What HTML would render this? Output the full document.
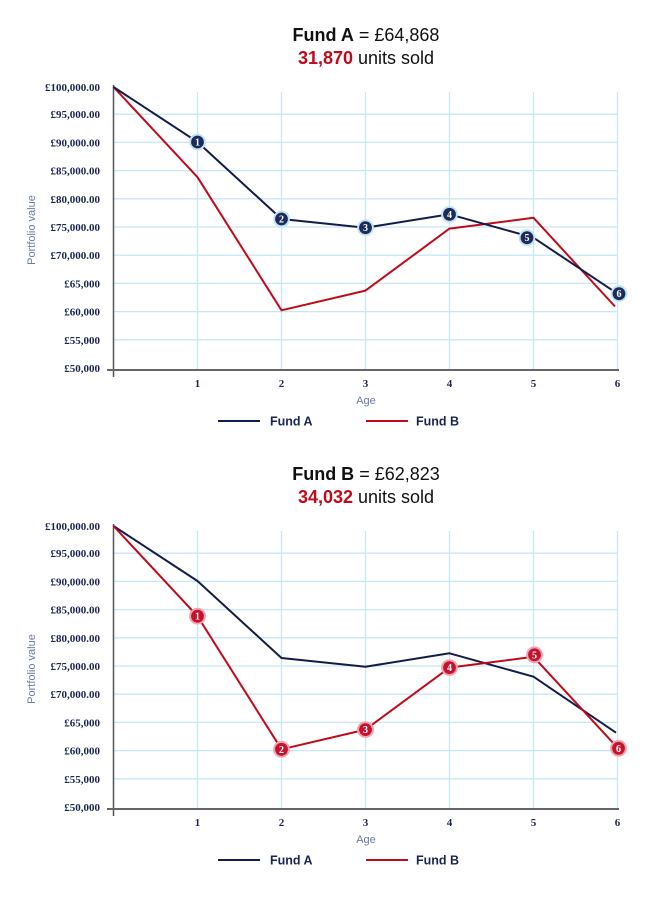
<!DOCTYPE html>
<html><head><meta charset="utf-8"><style>
html,body{margin:0;padding:0;background:#fff;}
svg{display:block;}
.t{font-family:"Liberation Sans",sans-serif;font-size:18px;fill:#111;}
.yl{font-family:"Liberation Serif",serif;font-size:11px;font-weight:bold;fill:#1b2552;text-anchor:end;}
.xl{font-family:"Liberation Serif",serif;font-size:11px;font-weight:bold;fill:#1b2552;text-anchor:middle;}
.ax{font-family:"Liberation Sans",sans-serif;font-size:11px;fill:#6a7aa6;text-anchor:middle;}
.lg{font-family:"Liberation Sans",sans-serif;font-size:12.5px;font-weight:bold;fill:#1b2552;}
.mn{font-family:"Liberation Serif",serif;font-size:10px;font-weight:bold;fill:#fff;text-anchor:middle;}
</style></head><body>
<svg width="659" height="905" viewBox="0 0 659 905" xmlns="http://www.w3.org/2000/svg">
<defs>
<g id="grid">
  <g stroke="#c8e7f6" stroke-width="1.3">
    <line x1="113.5" y1="114.2" x2="618" y2="114.2"/>
    <line x1="113.5" y1="142.4" x2="618" y2="142.4"/>
    <line x1="113.5" y1="170.6" x2="618" y2="170.6"/>
    <line x1="113.5" y1="198.8" x2="618" y2="198.8"/>
    <line x1="113.5" y1="227" x2="618" y2="227"/>
    <line x1="113.5" y1="255.2" x2="618" y2="255.2"/>
    <line x1="113.5" y1="283.4" x2="618" y2="283.4"/>
    <line x1="113.5" y1="311.6" x2="618" y2="311.6"/>
    <line x1="113.5" y1="339.8" x2="618" y2="339.8"/>
    <line x1="197.5" y1="92" x2="197.5" y2="370"/>
    <line x1="281.5" y1="92" x2="281.5" y2="370"/>
    <line x1="365.5" y1="92" x2="365.5" y2="370"/>
    <line x1="449.5" y1="92" x2="449.5" y2="370"/>
    <line x1="533.5" y1="92" x2="533.5" y2="370"/>
    <line x1="617.5" y1="92" x2="617.5" y2="370"/>
  </g>
  <line x1="113.5" y1="85" x2="113.5" y2="377" stroke="#555" stroke-width="1.5"/>
  <line x1="107" y1="370" x2="619" y2="370" stroke="#666" stroke-width="2"/>
  <text class="yl" x="100" y="91">£100,000.00</text>
  <text class="yl" x="100" y="118.2">£95,000.00</text>
  <text class="yl" x="100" y="146.4">£90,000.00</text>
  <text class="yl" x="100" y="174.6">£85,000.00</text>
  <text class="yl" x="100" y="202.8">£80,000.00</text>
  <text class="yl" x="100" y="231">£75,000.00</text>
  <text class="yl" x="100" y="259.2">£70,000.00</text>
  <text class="yl" x="100" y="287.4">£65,000</text>
  <text class="yl" x="100" y="315.6">£60,000</text>
  <text class="yl" x="100" y="343.8">£55,000</text>
  <text class="yl" x="100" y="372">£50,000</text>
  <text class="xl" x="197.5" y="387">1</text>
  <text class="xl" x="281.5" y="387">2</text>
  <text class="xl" x="365.5" y="387">3</text>
  <text class="xl" x="449.5" y="387">4</text>
  <text class="xl" x="533.5" y="387">5</text>
  <text class="xl" x="617.5" y="387">6</text>
  <text class="ax" x="366" y="404">Age</text>
  <text class="ax" x="0" y="0" font-size="10" transform="translate(35,230) rotate(-90)">Portfolio value</text>
  <line x1="218" y1="421" x2="260" y2="421" stroke="#141c4c" stroke-width="2"/>
  <text class="lg" x="270" y="425.5">Fund A</text>
  <line x1="366" y1="421" x2="408" y2="421" stroke="#c00a1a" stroke-width="2"/>
  <text class="lg" x="416" y="425.5">Fund B</text>
</g>
</defs>

<!-- Chart 1 -->
<text class="t" x="366" y="41" text-anchor="middle"><tspan font-weight="bold">Fund A</tspan> = £64,868</text>
<text class="t" x="366" y="64" text-anchor="middle"><tspan font-weight="bold" fill="#c00a1a">31,870</tspan> units sold</text>
<use href="#grid"/>
<polyline fill="none" stroke="#c00a1a" stroke-width="2" stroke-linejoin="round" points="113.5,87 197.5,177.2 281.5,310.3 365.5,290.6 449.5,228.6 533.5,217.8 615,306.5"/>
<polyline fill="none" stroke="#141c4c" stroke-width="2" stroke-linejoin="round" points="113.5,87 197.5,142 281.5,219 365.5,227.7 449.5,214.3 533.5,237.7 617.5,293.7"/>
<g>
  <circle cx="197.5" cy="142" r="7.4" fill="#1c2b5a" stroke="#bfe5f5" stroke-width="2"/><text class="mn" x="197.5" y="145.5">1</text>
  <circle cx="281.5" cy="219" r="7.4" fill="#1c2b5a" stroke="#bfe5f5" stroke-width="2"/><text class="mn" x="281.5" y="222.5">2</text>
  <circle cx="365.5" cy="227.7" r="7.4" fill="#1c2b5a" stroke="#bfe5f5" stroke-width="2"/><text class="mn" x="365.5" y="231.2">3</text>
  <circle cx="449.5" cy="214.3" r="7.4" fill="#1c2b5a" stroke="#bfe5f5" stroke-width="2"/><text class="mn" x="449.5" y="217.8">4</text>
  <circle cx="527" cy="237.7" r="7.4" fill="#1c2b5a" stroke="#bfe5f5" stroke-width="2"/><text class="mn" x="527" y="241.2">5</text>
  <circle cx="619" cy="293.7" r="7.4" fill="#1c2b5a" stroke="#bfe5f5" stroke-width="2"/><text class="mn" x="619" y="297.2">6</text>
</g>

<!-- Chart 2 -->
<text class="t" x="366" y="480" text-anchor="middle"><tspan font-weight="bold">Fund B</tspan> = £62,823</text>
<text class="t" x="366" y="503" text-anchor="middle"><tspan font-weight="bold" fill="#c00a1a">34,032</tspan> units sold</text>
<use href="#grid" transform="translate(0,439)"/>
<g transform="translate(0,439)">
<polyline fill="none" stroke="#141c4c" stroke-width="2" stroke-linejoin="round" points="113.5,87 197.5,142 281.5,219 365.5,227.7 449.5,214.3 533.5,237.7 616,293.7"/>
<polyline fill="none" stroke="#c00a1a" stroke-width="2" stroke-linejoin="round" points="113.5,87 197.5,177.2 281.5,310.3 365.5,290.6 449.5,228.6 533.5,217.8 617.5,308.7"/>
  <circle cx="197.5" cy="177.2" r="7.4" fill="#c4122f" stroke="#f2a3ad" stroke-width="2"/><text class="mn" x="197.5" y="180.7">1</text>
  <circle cx="281.5" cy="310.3" r="7.4" fill="#c4122f" stroke="#f2a3ad" stroke-width="2"/><text class="mn" x="281.5" y="313.8">2</text>
  <circle cx="365.5" cy="290.6" r="7.4" fill="#c4122f" stroke="#f2a3ad" stroke-width="2"/><text class="mn" x="365.5" y="294.1">3</text>
  <circle cx="449.5" cy="228.6" r="7.4" fill="#c4122f" stroke="#f2a3ad" stroke-width="2"/><text class="mn" x="449.5" y="232.1">4</text>
  <circle cx="534.5" cy="215.8" r="7.4" fill="#c4122f" stroke="#f2a3ad" stroke-width="2"/><text class="mn" x="534.5" y="219.3">5</text>
  <circle cx="618.5" cy="309.3" r="7.4" fill="#c4122f" stroke="#f2a3ad" stroke-width="2"/><text class="mn" x="618.5" y="312.8">6</text>
</g>
</svg>
</body></html>
